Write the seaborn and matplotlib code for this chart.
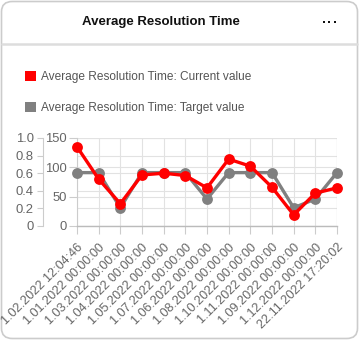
import matplotlib
matplotlib.use("Agg")
import matplotlib.pyplot as plt
from matplotlib.patches import FancyBboxPatch, Patch
from matplotlib.lines import Line2D
import seaborn as sns
import pandas as pd
import numpy as np

categories = ["1.02.2022 12:04:46", "1.01.2022 00:00:00", "1.03.2022 00:00:00",
              "1.04.2022 00:00:00", "1.05.2022 00:00:00", "1.07.2022 00:00:00",
              "1.06.2022 00:00:00", "1.08.2022 00:00:00", "1.10.2022 00:00:00",
              "1.11.2022 00:00:00", "1.09.2022 00:00:00", "1.12.2022 00:00:00",
              "22.11.2022 17:20:02"]
current_values = [135, 80, 38, 87, 90, 86, 65, 114, 102, 66, 19, 56, 65]
target_values = [91, 91, 31, 91, 91, 91, 46, 91, 91, 91, 31, 46, 91]
series_names = ["Average Resolution Time: Current value",
                "Average Resolution Time: Target value"]
title = "Average Resolution Time"
left_ticks = [0, 50, 100, 150]
sec_ticks = [0, 0.2, 0.4, 0.6, 0.8, 1.0]
sec_labels = ["0", "0.2", "0.4", "0.6", "0.8", "1.0"]

sns.set_theme(style="white")
plt.rcParams['font.family'] = ['Liberation Sans', 'DejaVu Sans']

W, H = 359, 340
fig = plt.figure(figsize=(W / 100, H / 100), dpi=100)

# card
card = FancyBboxPatch((1.5 / W, 1.5 / H), (W - 3) / W, (H - 3) / H,
                      boxstyle="round,pad=0,rounding_size=0.03",
                      transform=fig.transFigure, facecolor="white",
                      edgecolor="#cccccc", linewidth=1.2, zorder=-10)
fig.patches.append(card)
fig.add_artist(Line2D([2 / W, (W - 2) / W], [1 - 44 / H, 1 - 44 / H],
                      transform=fig.transFigure, color="#dddddd", linewidth=1.8))
fig.text(160.5 / W, 1 - 22 / H, title, ha="center", va="center",
         fontsize=9.5, fontweight="bold", color="#111111")
fig.add_artist(Line2D([323.5 / W, 329 / W, 334.5 / W], [1 - 22 / H] * 3,
                      transform=fig.transFigure, linestyle="none", marker="s",
                      markersize=2.0, markeredgewidth=0, color="#111111"))

x0, x1, ytop, ybot = 77, 337, 138, 226
ax = fig.add_axes([x0 / W, 1 - ybot / H, (x1 - x0) / W, (ybot - ytop) / H])
ax.set_facecolor("none")

n = len(categories)
df = pd.DataFrame({
    "x": list(range(n)) * 2,
    "value": current_values + target_values,
    "series": [series_names[0]] * n + [series_names[1]] * n,
})
palette = {series_names[0]: "#ff0000", series_names[1]: "#808080"}
hue_order = [series_names[1], series_names[0]]
sns.lineplot(data=df, x="x", y="value", hue="series", hue_order=hue_order,
             palette=palette, marker="o", markersize=7.8, markeredgewidth=0,
             linewidth=2.4, ax=ax, legend=False, clip_on=False, zorder=5)

ax.set_xlim(0, n - 1)
ax.set_ylim(0, 150)
ax.set_xticks(range(n))
ax.set_xticklabels(categories, rotation=45, ha="right", va="top",
                   rotation_mode="anchor")
ax.set_yticks(left_ticks)
ax.set_xlabel("")
ax.set_ylabel("")
ax.tick_params(axis="x", length=6, width=0.8, color="#cccccc", pad=5,
               labelsize=9.1, labelcolor="#666666", bottom=True)
ax.tick_params(axis="y", length=6, width=0.8, color="#cccccc", pad=1.5,
               labelsize=9.4, labelcolor="#666666", left=True)
ax.grid(True, color="#e2e2e2", linewidth=0.8)
for s in ["top", "right"]:
    ax.spines[s].set_visible(False)
ax.spines["left"].set_color("#cccccc")
ax.spines["bottom"].set_color("#bbbbbb")
ax.spines["left"].set_linewidth(0.8)
ax.spines["bottom"].set_linewidth(1.0)
ax.axvline(n - 1, color="#cccccc", linewidth=0.8, zorder=1)

# secondary axis on the left
ax2 = ax.twinx()
ax2.set_ylim(0, 1)
ax2.set_yticks(sec_ticks)
ax2.set_yticklabels(sec_labels)
ax2.yaxis.set_ticks_position("left")
ax2.yaxis.set_label_position("left")
ax2.spines["left"].set_position(("outward", 24.5))
ax2.spines["left"].set_color("#cccccc")
ax2.spines["left"].set_linewidth(0.8)
for s in ["top", "right", "bottom"]:
    ax2.spines[s].set_visible(False)
ax2.tick_params(axis="y", length=4.5, width=0.8, color="#cccccc", pad=2,
                labelsize=9.4, labelcolor="#666666")
ax2.grid(True, axis="y", color="#e2e2e2", linewidth=0.8)
ax2.patch.set_visible(False)
ax2.set_zorder(0)
ax.set_zorder(1)

handles = [Patch(facecolor="#ff0000", edgecolor="none"),
           Patch(facecolor="#808080", edgecolor="none")]
fig.legend(handles, series_names, loc="upper left",
           bbox_to_anchor=(25 / W, 1 - 71 / H), frameon=False,
           fontsize=8.6, labelcolor="#555555", handlelength=0.95,
           handleheight=0.95, handletextpad=0.4, labelspacing=1.55,
           borderpad=0, borderaxespad=0)

fig.savefig("out.png", dpi=100)
